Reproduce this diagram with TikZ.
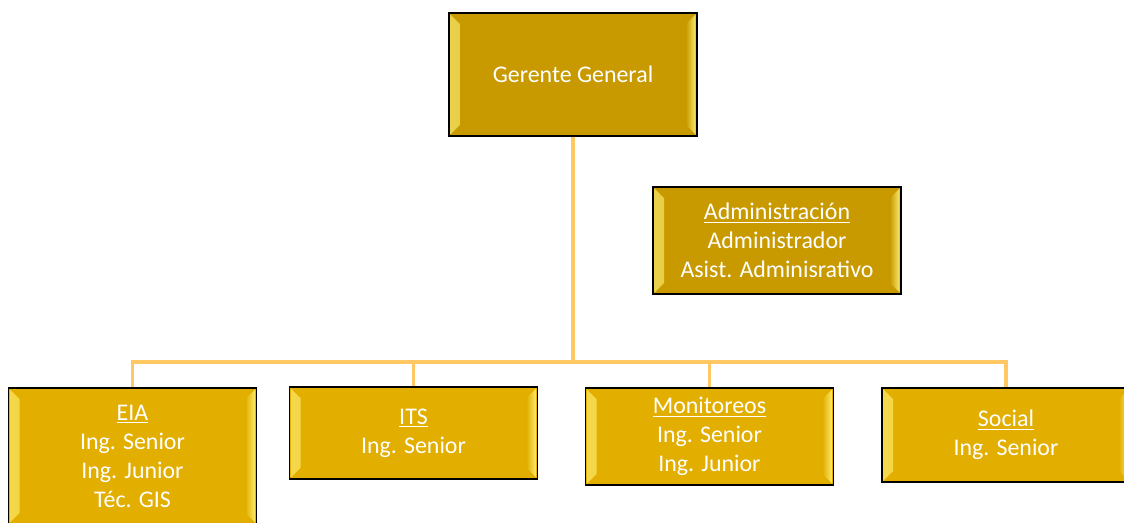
\documentclass[tikz,border=0pt]{standalone}
\usepackage{fontspec}
\setmainfont{Carlito}
\usetikzlibrary{backgrounds}

\definecolor{oroosc}{RGB}{200,154,0}
\definecolor{oroclaro}{RGB}{226,174,0}
\definecolor{brillo}{RGB}{255,242,120}
\definecolor{linea}{RGB}{255,200,100}

\begin{document}
\begin{tikzpicture}[x=0.025cm, y=-0.025cm]
    % estilos de las cajas y las lineas
    \tikzset{
      cargo/.style={draw=black, line width=1pt, fill=#1, text=white,
        font=\fontsize{17}{20.6}\selectfont, align=center, inner sep=0pt,
        minimum width=6.2cm,
        path picture={
          % bisel claro a izquierda y derecha
          \shade[left color=brillo!70!#1, right color=#1, opacity=0.9]
            ([shift={(1pt,-1pt)}]path picture bounding box.north west) -- ++(7pt,-7pt)
            -- ([shift={(8pt,8pt)}]path picture bounding box.south west) -- ++(-7pt,-7pt) -- cycle;
          \shade[left color=#1, right color=brillo, opacity=0.9]
            ([shift={(-1pt,-1pt)}]path picture bounding box.north east) -- ++(-7pt,-7pt)
            -- ([shift={(-8pt,8pt)}]path picture bounding box.south east) -- ++(7pt,-7pt) -- cycle;
        }},
      enlace/.style={draw=linea, line width=2.6pt}
    }

    \useasboundingbox (0,0) rectangle (1124,522);

    % gerencia
    \node[cargo=oroosc, minimum height=3.075cm] (gg) at (573,74.5) {Gerente General};
    \node[cargo=oroosc, minimum height=2.675cm] (adm) at (777,240.5)
      {\underline{Administración}\\Administrador\\Asist. Adminisrativo};

    % areas
    \node[cargo=oroclaro, minimum height=3.4cm] (eia) at (132.5,456)
      {\underline{EIA}\\Ing. Senior\\Ing. Junior\\Téc. GIS};
    \node[cargo=oroclaro, minimum height=2.3cm] (its) at (413.5,433)
      {\underline{ITS}\\Ing. Senior};
    \node[cargo=oroclaro, minimum height=2.425cm] (moni) at (709.5,436.5)
      {\underline{Monitoreos}\\Ing. Senior\\Ing. Junior};
    \node[cargo=oroclaro, minimum height=2.35cm] (soc) at (1006,435)
      {\underline{Social}\\Ing. Senior};

    % barra horizontal
    \coordinate (barra) at (573,362);

    \begin{scope}[on background layer]
      \draw[enlace] (gg.south) -- (barra);
      \draw[enlace] (eia.north) |- (barra);
      \draw[enlace] (its.north) |- (barra);
      \draw[enlace] (moni.north) |- (barra);
      \draw[enlace] (soc.north) |- (barra);
    \end{scope}
\end{tikzpicture}
\end{document}
